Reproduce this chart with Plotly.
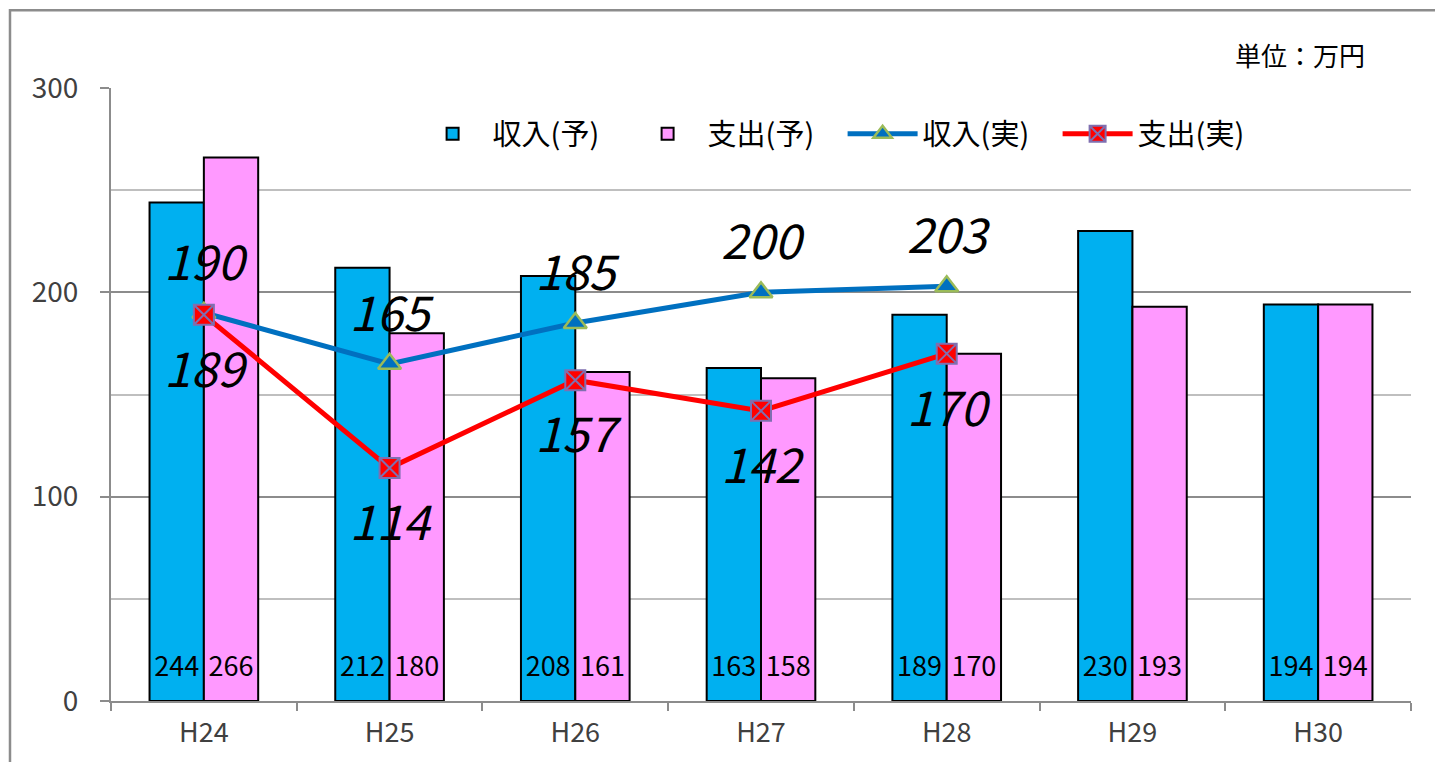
import plotly.graph_objects as go

categories = ["H24", "H25", "H26", "H27", "H28", "H29", "H30"]
income_plan = [244, 212, 208, 163, 189, 230, 194]
expense_plan = [266, 180, 161, 158, 170, 193, 194]
actual_cats = ["H24", "H25", "H26", "H27", "H28"]
income_actual = [190, 165, 185, 200, 203]
expense_actual = [189, 114, 157, 142, 170]
y_ticks = [0, 100, 200, 300]

FONT = "Noto Sans CJK JP"


def bar_text(vals):
    return [f"<span style='font-size:27px'>{v}</span><br>&nbsp;" for v in vals]


fig = go.Figure()
fig.add_trace(go.Bar(
    name="収入(予)", x=categories, y=income_plan,
    marker=dict(color="#00B0F0", line=dict(color="black", width=2)),
    text=bar_text(income_plan), textposition="inside", insidetextanchor="start",
    textangle=0, constraintext="none", hoverinfo="skip",
    textfont=dict(size=14, color="#000000", family=FONT),
))
fig.add_trace(go.Bar(
    name="支出(予)", x=categories, y=expense_plan,
    marker=dict(color="#FF99FF", line=dict(color="black", width=2)),
    text=bar_text(expense_plan), textposition="inside", insidetextanchor="start",
    textangle=0, constraintext="none", hoverinfo="skip",
    textfont=dict(size=14, color="#000000", family=FONT),
))
fig.add_trace(go.Scatter(
    name="収入(実)", x=actual_cats, y=income_actual, mode="lines+markers",
    line=dict(color="#0070C0", width=5),
    marker=dict(symbol="triangle-up", size=20, color="#0070C0",
                line=dict(color="#9BBB59", width=2.5)),
))
fig.add_trace(go.Scatter(
    name="支出(実)", x=actual_cats, y=expense_actual, mode="lines+markers",
    line=dict(color="#FF0000", width=5),
    marker=dict(symbol="square-x", size=20, color="#FF0000",
                line=dict(color="#7F6FB0", width=2)),
))
# value labels for the actual lines
fig.add_trace(go.Scatter(
    x=actual_cats, y=income_actual, mode="markers+text", showlegend=False, hoverinfo="skip",
    marker=dict(size=32, opacity=0), text=income_actual, textposition="top center",
    textfont=dict(size=48, color="#000000", family=FONT, style="italic"),
))
fig.add_trace(go.Scatter(
    x=actual_cats, y=expense_actual, mode="markers+text", showlegend=False, hoverinfo="skip",
    marker=dict(size=56, opacity=0), text=expense_actual, textposition="bottom center",
    textfont=dict(size=48, color="#000000", family=FONT, style="italic"),
))

fig.update_layout(
    width=1427, height=754,
    margin=dict(l=103, r=24, t=80, b=59),
    paper_bgcolor="white", plot_bgcolor="white",
    barmode="group", bargap=0.415, bargroupgap=0,
    font=dict(family=FONT, size=22, color="#404040"),
    showlegend=True,
    legend=dict(orientation="h", x=0.232, xanchor="left", y=0.925, yanchor="middle",
                font=dict(size=29, color="#000000"), bgcolor="rgba(0,0,0,0)",
                itemwidth=70, entrywidth=130, traceorder="normal"),
)
fig.update_xaxes(
    type="category", range=[-0.5, len(categories) - 0.5],
    showline=True, linecolor="#8C8C8C", linewidth=2,
    ticks="outside", tickson="boundaries", ticklen=8, tickcolor="#8C8C8C", tickwidth=2,
    tickfont=dict(size=27, color="#404040"), showgrid=False, ticklabelstandoff=7,
)
fig.update_yaxes(
    range=[0, 300], tickvals=y_ticks, showline=True, linecolor="#8C8C8C", linewidth=2,
    ticks="outside", ticklen=9, tickcolor="#8C8C8C", tickwidth=2,
    showgrid=True, gridcolor="#8C8C8C", gridwidth=2,
    minor=dict(dtick=50, showgrid=True, gridcolor="#BFBFBF", gridwidth=2),
    tickfont=dict(size=28, color="#404040"), zeroline=False, ticklabelstandoff=16,
)
fig.add_annotation(text="単位：万円", xref="paper", yref="paper", x=0.966, y=1.055,
                   xanchor="right", yanchor="middle", showarrow=False,
                   font=dict(size=26, color="#000000"))
fig.add_shape(type="rect", xref="paper", yref="paper",
              x0=-0.0777, x1=1.1, y0=-0.2, y1=1.1268,
              line=dict(color="#8C8C8C", width=2.5), fillcolor="rgba(0,0,0,0)", layer="below")

fig.write_html("out.html")
